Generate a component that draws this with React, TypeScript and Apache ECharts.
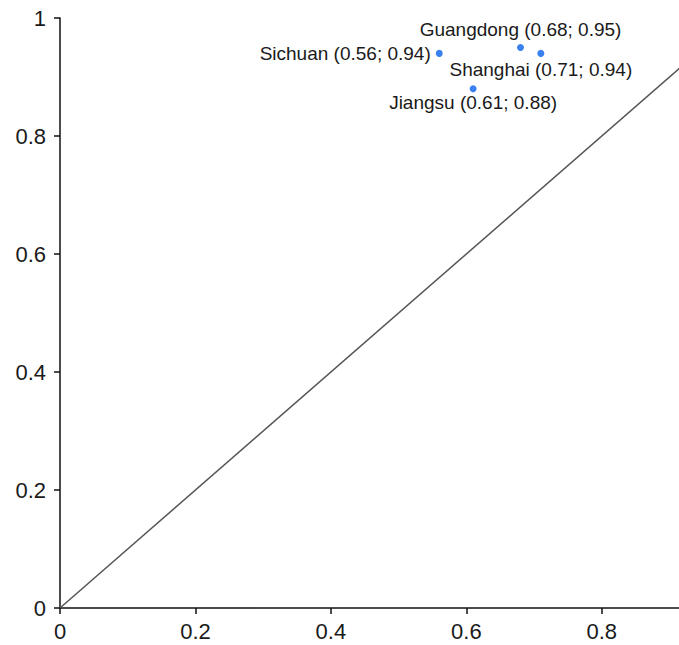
import React, { useEffect, useRef } from "react";
import * as echarts from "echarts";

const provinces = ["Sichuan", "Guangdong", "Shanghai", "Jiangsu"];
const xValues = [0.56, 0.68, 0.71, 0.61];
const yValues = [0.94, 0.95, 0.94, 0.88];
const labelPositions = ["left", "top", "bottom", "bottom"];
const labelDistances = [5, 5, 3, 1];
const diagonal = [
  [0, 0],
  [1, 1],
];
const xTicks = [0, 0.2, 0.4, 0.6, 0.8];
const yTicks = [0, 0.2, 0.4, 0.6, 0.8, 1];

export default function App() {
  const ref = useRef<HTMLDivElement>(null);
  useEffect(() => {
    if (!ref.current) return;
    const chart = echarts.init(ref.current, null, { renderer: "svg" });
    const fmt = (v: number) => (v === 0 ? "0" : String(Number(v.toFixed(2))));
    const points = provinces.map((name, i) => ({
      name,
      value: [xValues[i], yValues[i]],
      label: {
        position: labelPositions[i],
        distance: labelDistances[i],
      },
    }));
    chart.setOption({
      animation: false,
      backgroundColor: "#ffffff",
      textStyle: { fontFamily: "Liberation Sans, Arial, sans-serif" },
      grid: { left: 60, top: 18, right: 0, bottom: 37, containLabel: false },
      xAxis: {
        type: "value",
        min: 0,
        max: 0.914,
        interval: 0.2,
        axisLine: { show: true, lineStyle: { color: "#111", width: 1.5 } },
        axisTick: { show: true, length: 6, lineStyle: { color: "#111", width: 1.5 } },
        splitLine: { show: false },
        axisLabel: {
          fontSize: 22,
          color: "#1a1a1a",
          margin: 12,
          showMaxLabel: false,
          formatter: (v: number) => (xTicks.some((t) => Math.abs(t - v) < 1e-6) ? fmt(v) : ""),
        },
      },
      yAxis: {
        type: "value",
        min: 0,
        max: 1,
        interval: 0.2,
        axisLine: { show: true, lineStyle: { color: "#111", width: 1.5 } },
        axisTick: { show: true, length: 6, lineStyle: { color: "#111", width: 1.5 } },
        splitLine: { show: false },
        axisLabel: {
          fontSize: 22,
          color: "#1a1a1a",
          margin: 14,
          formatter: (v: number) => (yTicks.some((t) => Math.abs(t - v) < 1e-6) ? fmt(v) : ""),
        },
      },
      series: [
        {
          type: "line",
          data: diagonal,
          clip: true,
          symbol: "none",
          lineStyle: { color: "#555", width: 1.5 },
          silent: true,
          z: 1,
        },
        {
          type: "scatter",
          data: points,
          symbolSize: 7,
          itemStyle: { color: "#3a80f0", opacity: 1 },
          label: {
            show: true,
            fontSize: 19,
            color: "#1a1a1a",
            opacity: 1,
            formatter: (p: any) => `${p.name} (${p.value[0].toFixed(2)}; ${p.value[1].toFixed(2)})`,
          },
          z: 3,
        },
      ],
    });
    return () => chart.dispose();
  }, []);
  return (
    <div
      ref={ref}
      style={{ position: "fixed", left: 0, top: 0, width: 679, height: 645, background: "#fff" }}
    />
  );
}
